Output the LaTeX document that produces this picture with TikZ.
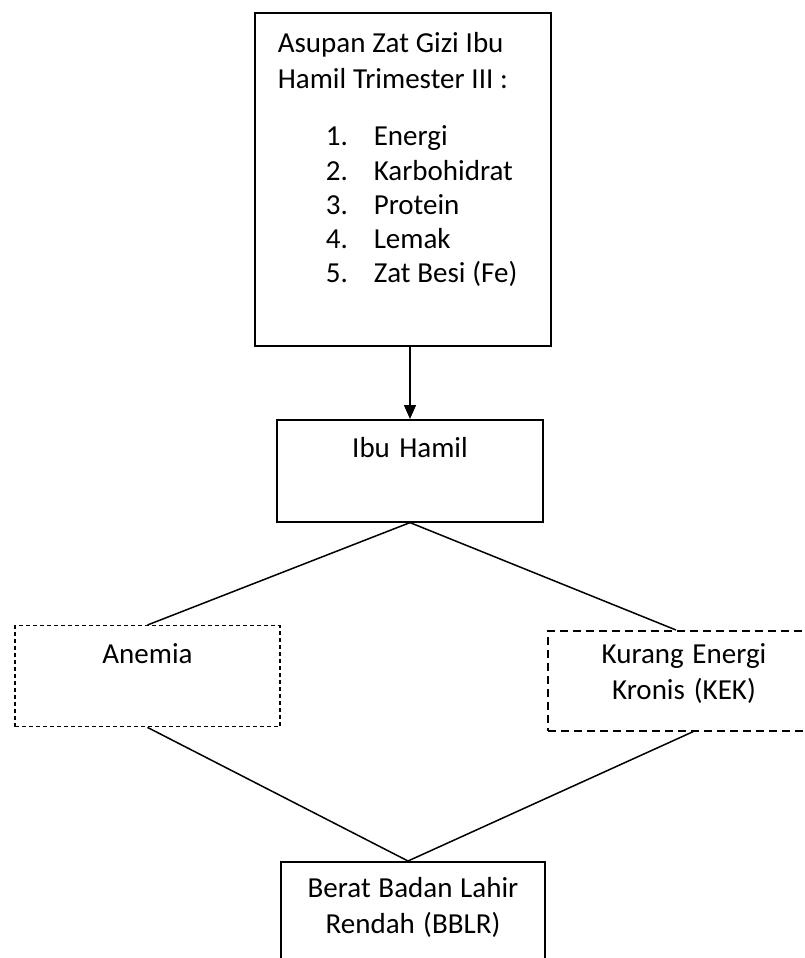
\documentclass[tikz,border=0pt]{standalone}
\usepackage{fontspec}
\setmainfont{Carlito}
\usetikzlibrary{arrows.meta}

\newcommand{\huruf}{\fontsize{29}{36}\selectfont}
\newcommand{\spasi}{\spaceskip 6.8pt plus 2pt minus 1pt\relax}
\newcommand{\gizi}[2]{\hspace*{48pt}\makebox[48pt][l]{#1.}#2}

\begin{document}
\begin{tikzpicture}[x=1pt, y=-1pt, line width=1.5pt,
	every node/.style={font=\huruf, inner sep=0pt, align=center, execute at begin node=\spasi},
	kotak/.style={draw, line width=1.6pt},
	putus/.style={draw, line width=1.4pt, dash pattern=on 4pt off 3pt},
	putusb/.style={draw, line width=1.7pt, dash pattern=on 8pt off 5pt},
	>={Triangle[length=14pt, width=12pt]}]
	\useasboundingbox (0,0) rectangle (805,958);
	\node[kotak, anchor=north west, text width=250pt, inner xsep=23pt, align=left, text height=40pt, text depth=293pt] (asupan) at (254,12)
		{Asupan Zat Gizi Ibu\\Hamil Trimester III :\\[21pt]
		\gizi{1}{Energi}\\[-1.7pt]
		\gizi{2}{Karbohidrat}\\[-1.7pt]
		\gizi{3}{Protein}\\[-1.7pt]
		\gizi{4}{Lemak}\\[-1.7pt]
		\gizi{5}{Zat Besi (Fe)}};
	\node[kotak, anchor=north, text width=266pt, text height=38pt, text depth=64pt] (ibu) at (410,419) {Ibu Hamil};
	\node[putus, anchor=north, text width=265pt, text height=38pt, text depth=63pt] (anemia) at (147.5,625) {Anemia};
	\node[putusb, anchor=north, text width=272pt, text height=33pt, text depth=67pt] (kek) at (684,630) {Kurang Energi\\Kronis (KEK)};
	\node[kotak, anchor=north, text width=264pt, text height=36pt, text depth=90pt] (bblr) at (413,861) {Berat Badan Lahir\\Rendah (BBLR)};
	\draw[->] (asupan.south -| ibu.north) -- (ibu.north);
	\draw (ibu.south) -- (anemia.north);
	\draw (ibu.south) -- ([xshift=-8pt]kek.north);
	\draw (anemia.south) -- ([xshift=-5pt]bblr.north);
	\draw ([xshift=9pt]kek.south) -- ([xshift=-5pt]bblr.north);
\end{tikzpicture}
\end{document}
